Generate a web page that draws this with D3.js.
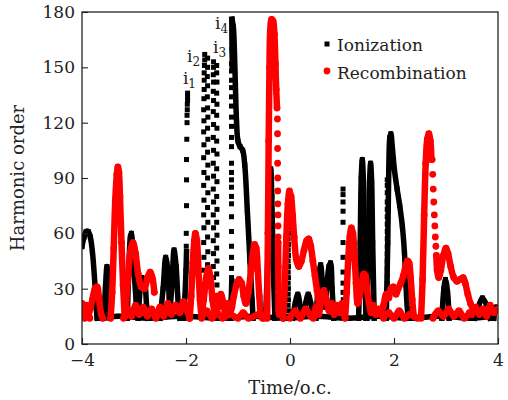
<!DOCTYPE html>
<html><head><meta charset="utf-8">
<script src="https://cdn.jsdelivr.net/npm/d3@7"></script>
<style>body{margin:0;background:#fff} text{font-family:"DejaVu Serif",serif;fill:#222}</style>
</head><body>
<svg id="c" width="508" height="400"></svg>
<script>
// ---------- tick labels ----------
const xTicks = [-4,-2,0,2,4];
const xMinorTicks = [-3,-1,1,3];
const yTicks = [0,30,60,90,120,150,180];
const yMinorTicks = [15,45,75,105,135,165];
const seriesNames = ["Ionization","Recombination"];
// label text, subscript, time, order (anchor of the "i")
const peakLabels = [["i","1",-2.06,141],["i","2",-1.98,153],["i","3",-1.48,158],["i","4",-1.44,171]];

// ---------- Ionization (black squares): dense runs [time, order] ----------
const ionA = [[-4,53],[-3.96,58],[-3.92,61],[-3.88,61],[-3.84,58],[-3.8,50],[-3.76,36],[-3.73,22],[-3.71,14]];
const ionB = [[-3.58,14],[-3.55,30],[-3.52,42],[-3.49,30],[-3.46,14]];
const ionC = [[-3.13,14],[-3.1,40],[-3.07,58],[-3.05,60],[-3.02,50],[-2.99,36],[-2.96,24],[-2.93,16]];
const ionD = [[-2.92,14],[-2.88,30],[-2.85,36],[-2.8,34],[-2.76,22],[-2.73,14]];
const ionE = [[-2.5,14],[-2.44,30],[-2.39,47],[-2.35,40],[-2.31,20],[-2.27,32],[-2.23,51],[-2.19,42],[-2.15,22],[-2.12,14]];
const ionI1Low = [[-1.99,50],[-2.0,40],[-2.02,26],[-2.04,14]];
const ionI4 = [[-1.115,176],[-1.09,172],[-1.07,160],[-1.05,140],[-1.03,122],[-1.0,110],[-0.96,107],[-0.91,105],[-0.87,97],[-0.82,72],[-0.77,45],[-0.73,24],[-0.71,14]];
const ionI4Top = [[-1.12,176],[-1.115,160],[-1.11,150]];
const ionI4Low = [[-1.12,34],[-1.13,24],[-1.14,14]];
const ionHidden = [[-0.47,14],[-0.43,45],[-0.39,85],[-0.37,95],[-0.35,80],[-0.32,40],[-0.29,14]];
const ionF = [[0.05,14],[0.1,22],[0.15,27],[0.2,20],[0.25,15],[0.3,22],[0.35,27],[0.4,22],[0.45,14]];
const ionG = [[0.5,14],[0.54,30],[0.59,43],[0.63,30],[0.67,20],[0.71,32],[0.75,42],[0.78,44],[0.81,30],[0.84,14]];
const ionH = [[1.32,14],[1.35,55],[1.37,90],[1.39,100],[1.41,90],[1.43,55],[1.46,14]];
const ionK = [[1.48,14],[1.51,55],[1.53,88],[1.55,98],[1.57,88],[1.59,55],[1.62,14]];
const ionJ = [[1.85,14],[1.88,55],[1.9,95],[1.92,112],[1.94,114],[1.97,106],[2.01,94],[2.06,84],[2.11,75],[2.16,64],[2.2,50],[2.23,32],[2.26,18],[2.28,14]];
const ionL = [[2.92,14],[2.96,30],[2.99,35],[3.03,28],[3.06,14]];
const ionM = [[3.55,14],[3.62,20],[3.7,25],[3.78,21],[3.85,14]];
const ionN = [[3.92,14],[3.96,20],[4.0,19]];
const ionBase = [[-3.7,14],[-3.3,15],[-2.7,14],[-2.1,15],[-1.3,14],[-0.7,15],[-0.1,14],[0.5,15],[1.1,14],[1.7,15],[2.3,14],[2.9,15],[3.5,14],[3.9,15]];
// Ionization sparse columns (single squares)
const ionDotsI1 = [[-1.97,136],[-1.97,134],[-1.97,132],[-1.975,130],[-1.975,127],[-1.98,124],[-1.98,120],[-1.985,111],[-1.99,100],[-1.99,89],[-1.99,75],[-1.995,60],[-1.995,53]];
const ionDotsI2 = [[-1.64,157],[-1.64,154],[-1.645,151],[-1.65,147],[-1.65,143],[-1.65,138],[-1.655,133],[-1.66,127],[-1.655,121],[-1.66,115],[-1.655,108],[-1.66,101],[-1.655,93],[-1.66,86],[-1.655,78],[-1.66,70],[-1.655,63],[-1.66,55],[-1.655,47],[-1.66,40],
  [-1.585,155],[-1.585,150],[-1.59,145],[-1.585,140],[-1.59,134],[-1.585,128],[-1.58,123],[-1.585,117],[-1.58,111],[-1.585,104],[-1.58,97],[-1.585,90],[-1.58,82],[-1.585,74],[-1.58,66],[-1.585,58],[-1.58,50],[-1.585,43],[-1.58,36]];
const ionDotsI3 = [[-1.47,153],[-1.47,150],[-1.475,146],[-1.47,142],[-1.475,137],[-1.47,132],[-1.475,126],[-1.47,119],[-1.475,112],[-1.47,105],[-1.475,98],[-1.47,91],[-1.475,84],[-1.47,77],[-1.475,70],[-1.47,63],[-1.475,56],[-1.47,49],[-1.475,42],[-1.47,36],
  [-1.41,151],[-1.41,147],[-1.405,142],[-1.41,136],[-1.405,130],[-1.41,124],[-1.405,117],[-1.41,110],[-1.405,103],[-1.41,95],[-1.405,88],[-1.41,80],[-1.405,73],[-1.41,66],[-1.405,59],[-1.41,52],[-1.405,45],[-1.41,38],[-1.405,32]];
const ionDotsI4 = [[-1.125,152],[-1.125,148],[-1.125,143],[-1.125,139],[-1.125,134],[-1.125,129],[-1.125,123],[-1.125,118],[-1.125,112],[-1.125,107],[-1.125,98],[-1.125,93],[-1.125,89],[-1.125,85],[-1.125,80],[-1.125,76],[-1.125,69],[-1.125,61],[-1.125,53],[-1.125,47],[-1.125,41],[-1.125,36]];
const ionDotsT0 = [[-0.03,63],[-0.03,60],[-0.035,57],[-0.03,54],[-0.035,51],[-0.03,48],[-0.035,45],[-0.03,42],[-0.035,39],[-0.03,36],[-0.035,33],[-0.03,30],[-0.035,27],[-0.03,24],[-0.035,21],[-0.03,18],[-0.035,15]];
const ionDotsT1 = [[1.02,84],[1.02,81],[1.02,77],[1.02,72],[1.02,66],[1.02,55],[1.02,47],[1.02,39],[1.02,33],[1.02,28],[1.025,24],[1.02,21],[1.025,18],[1.02,15]];
const ionDotsT2 = [[1.87,89],[1.87,86],[1.87,82],[1.87,77],[1.87,73],[1.87,69],[1.87,65],[1.87,61],[1.87,57],[1.87,53],[1.87,49],[1.87,45],[1.87,41],[1.87,37],[1.87,33],[1.87,29],[1.87,25]];

// ---------- Recombination (red circles): dense runs ----------
const recA = [[-4,22],[-3.96,18],[-3.92,21],[-3.88,16],[-3.84,19],[-3.8,24],[-3.75,30],[-3.71,31],[-3.67,24],[-3.63,16],[-3.6,14]];
const recA2 = [[-4,15],[-3.95,14],[-3.9,17],[-3.85,14]];
const recB = [[-3.45,14],[-3.42,28],[-3.39,52],[-3.36,78],[-3.33,92],[-3.31,96],[-3.29,93],[-3.27,80],[-3.24,55],[-3.21,32],[-3.18,16]];
const recC = [[-3.17,15],[-3.12,34],[-3.07,50],[-3.02,55],[-2.97,49],[-2.92,38],[-2.86,31],[-2.8,30],[-2.74,36],[-2.69,39],[-2.64,35],[-2.61,28]];
const recLow1 = [[-3.2,14],[-3.12,19],[-3.05,15],[-2.97,21],[-2.9,16],[-2.82,20],[-2.74,15],[-2.66,19],[-2.58,14],[-2.5,20],[-2.43,15],[-2.35,22],[-2.28,16],[-2.2,21],[-2.12,17],[-2.05,23],[-1.98,18],[-1.93,14]];
const recD = [[-1.93,14],[-1.9,26],[-1.87,44],[-1.84,56],[-1.82,60],[-1.79,56],[-1.76,40],[-1.73,24],[-1.7,16],[-1.66,24],[-1.61,36],[-1.57,41],[-1.53,36],[-1.49,24],[-1.45,18],[-1.41,26],[-1.37,20],[-1.33,27],[-1.28,22],[-1.24,16],[-1.2,22],[-1.14,18],[-1.08,26],[-1.03,32],[-0.98,35],[-0.93,33],[-0.89,26],[-0.85,22],[-0.8,28],[-0.75,40],[-0.71,50],[-0.68,54],[-0.65,52],[-0.62,40],[-0.59,26],[-0.56,16],[-0.53,14]];
const recLowD = [[-1.7,14],[-1.6,18],[-1.5,14],[-1.4,17],[-1.3,14],[-1.15,16],[-1.0,14],[-0.9,17],[-0.8,14],[-0.6,16],[-0.5,14]];
const recE = [[-0.44,14],[-0.425,60],[-0.41,110],[-0.395,150],[-0.38,170],[-0.355,176],[-0.325,175],[-0.3,168],[-0.28,152],[-0.265,138],[-0.25,128]];
const recEDown = [[-0.228,55],[-0.225,42],[-0.22,28],[-0.21,16],[-0.17,18],[-0.13,14]];
const recF = [[-0.13,14],[-0.1,32],[-0.07,58],[-0.04,76],[-0.01,83],[0.02,80],[0.05,70],[0.08,58],[0.12,46],[0.17,42],[0.22,45],[0.27,51],[0.32,56],[0.36,57],[0.4,53],[0.44,45],[0.48,37],[0.52,29],[0.56,22]];
const recLow2 = [[0.0,14],[0.1,18],[0.2,14],[0.3,19],[0.4,15],[0.45,14],[0.5,20],[0.55,16],[0.6,24],[0.65,29],[0.7,24],[0.75,18],[0.8,22],[0.85,16],[0.9,21],[0.95,17],[1.0,22],[1.05,15]];
const recG = [[1.06,14],[1.09,28],[1.12,46],[1.15,58],[1.18,63],[1.21,60],[1.24,48],[1.27,33],[1.3,22],[1.34,26],[1.38,33],[1.42,38],[1.45,37],[1.48,30],[1.52,22],[1.56,17],[1.6,21],[1.65,16],[1.7,19],[1.75,16]];
const recH = [[1.75,16],[1.8,21],[1.85,27],[1.9,25],[1.94,30],[1.99,31],[2.04,27],[2.08,30],[2.13,33],[2.18,37],[2.22,42],[2.26,45],[2.29,44],[2.32,36],[2.35,24],[2.38,15]];
const recLowH = [[1.8,14],[1.9,17],[2.0,14],[2.1,18],[2.2,14],[2.3,16],[2.45,14]];
const recI = [[2.52,14],[2.55,35],[2.58,70],[2.61,98],[2.64,111],[2.67,114],[2.7,110],[2.72,100]];
const recI2 = [[2.815,48],[2.83,40],[2.86,36],[2.9,40],[2.95,48],[3.0,52],[3.04,49],[3.09,42],[3.15,36],[3.21,34],[3.27,35],[3.33,36],[3.37,33],[3.42,27],[3.47,22],[3.52,19]];
const recLow3 = [[2.75,14],[2.85,18],[2.95,15],[3.05,19],[3.15,15],[3.25,18],[3.35,14],[3.45,17]];
const recEnd = [[3.5,16],[3.57,20],[3.64,16],[3.71,19],[3.78,15],[3.85,21],[3.92,17],[4.0,19]];
// Recombination sparse runs
const recDotsE = [[-0.242,122],[-0.24,114],[-0.239,106],[-0.238,98],[-0.236,90],[-0.235,83],[-0.233,76],[-0.232,70],[-0.23,64],[-0.228,58]];
const recDotsI = [[2.735,100],[2.745,92],[2.755,84],[2.765,77],[2.775,70],[2.785,64],[2.795,58],[2.805,53]];

const ionDense = [ionBase,ionA,ionB,ionC,ionD,ionE,ionI1Low,ionI4,ionI4Top,ionI4Low,ionHidden,ionF,ionG,ionH,ionK,ionJ,ionL,ionM,ionN];
const ionSparse = [ionDotsI1,ionDotsI2,ionDotsI3,ionDotsI4,ionDotsT0,ionDotsT1,ionDotsT2];
const recDense = [recA,recA2,recLow1,recLowD,recLow2,recLowH,recLow3,recB,recC,recD,recE,recEDown,recF,recG,recH,recI,recI2,recEnd];
const recSparse = [recDotsE,recDotsI];

// ---------- drawing ----------
const svg = d3.select("#c");
const L=82,R=498,T=12,B=344;
const x = d3.scaleLinear().domain([-4,4]).range([L,R]);
const y = d3.scaleLinear().domain([0,180]).range([B,T]);
svg.append("clipPath").attr("id","pc").append("rect").attr("x",L).attr("y",T).attr("width",R-L).attr("height",B-T);
const plot = svg.append("g").attr("clip-path","url(#pc)");
const line = d3.line().x(d=>x(d[0])).y(d=>y(d[1])).curve(d3.curveCatmullRom.alpha(0.5));
const BLK="#000", RED="#ff0000", SQ=5, RC=3.4;

function drawDenseBlack(arr){
  plot.append("path").datum(arr).attr("d",line).attr("fill","none").attr("stroke",BLK).attr("stroke-width",5.5).attr("stroke-linejoin","round").attr("stroke-linecap","square");
  plot.append("g").selectAll("rect").data(arr).join("rect").attr("x",d=>x(d[0])-SQ/2).attr("y",d=>y(d[1])-SQ/2).attr("width",SQ).attr("height",SQ).attr("fill",BLK);
}
function drawSparseBlack(arr){
  plot.append("g").selectAll("rect").data(arr).join("rect").attr("x",d=>x(d[0])-SQ/2).attr("y",d=>y(d[1])-SQ/2).attr("width",SQ).attr("height",SQ).attr("fill",BLK);
}
function drawDenseRed(arr){
  plot.append("path").datum(arr).attr("d",line).attr("fill","none").attr("stroke",RED).attr("stroke-width",6.5).attr("stroke-linejoin","round").attr("stroke-linecap","round");
  plot.append("g").selectAll("circle").data(arr).join("circle").attr("cx",d=>x(d[0])).attr("cy",d=>y(d[1])).attr("r",RC).attr("fill",RED);
}
function drawSparseRed(arr){
  plot.append("g").selectAll("circle").data(arr).join("circle").attr("cx",d=>x(d[0])).attr("cy",d=>y(d[1])).attr("r",RC).attr("fill",RED);
}
ionDense.forEach(drawDenseBlack);
ionSparse.forEach(drawSparseBlack);
recDense.forEach(drawDenseRed);
recSparse.forEach(drawSparseRed);

// axes
const gx = svg.append("g").attr("transform",`translate(0,${B})`);
gx.call(d3.axisBottom(x).tickValues(xMinorTicks).tickSize(-3.5).tickFormat(""));
gx.call(d3.axisBottom(x).tickValues(xTicks).tickSize(-6).tickPadding(10));
const gy = svg.append("g").attr("transform",`translate(${L},0)`);
gy.call(d3.axisLeft(y).tickValues(yMinorTicks).tickSize(-3.5).tickFormat(""));
gy.call(d3.axisLeft(y).tickValues(yTicks).tickSize(-6).tickPadding(7));
svg.selectAll(".domain").remove();
svg.selectAll(".tick line").attr("stroke","#222").attr("stroke-width",1.1);
svg.selectAll(".tick text").attr("font-family","DejaVu Serif").attr("font-size",17).attr("fill","#222");
svg.append("rect").attr("x",L).attr("y",T).attr("width",R-L).attr("height",B-T).attr("fill","none").attr("stroke","#222").attr("stroke-width",1.3);

svg.append("text").attr("x",x(0)).attr("y",394).attr("text-anchor","middle").attr("font-size",18).text("Time/o.c.");
svg.append("text").attr("transform",`translate(24,${(T+B)/2}) rotate(-90)`).attr("text-anchor","middle").attr("font-size",18).text("Harmonic order");

// peak labels
peakLabels.forEach(p=>{
  const t = svg.append("text").attr("x",x(p[2])).attr("y",y(p[3])).attr("font-size",17);
  t.append("tspan").text(p[0]);
  t.append("tspan").attr("font-size",12).attr("dy",4).text(p[1]);
});

// legend
svg.append("rect").attr("x",324.5).attr("y",41.5).attr("width",SQ).attr("height",SQ).attr("fill",BLK);
svg.append("text").attr("x",337).attr("y",51).attr("font-size",17).text(seriesNames[0]);
svg.append("circle").attr("cx",327).attr("cy",71).attr("r",RC).attr("fill",RED);
svg.append("text").attr("x",337).attr("y",79).attr("font-size",17).text(seriesNames[1]);
</script>
</body></html>
